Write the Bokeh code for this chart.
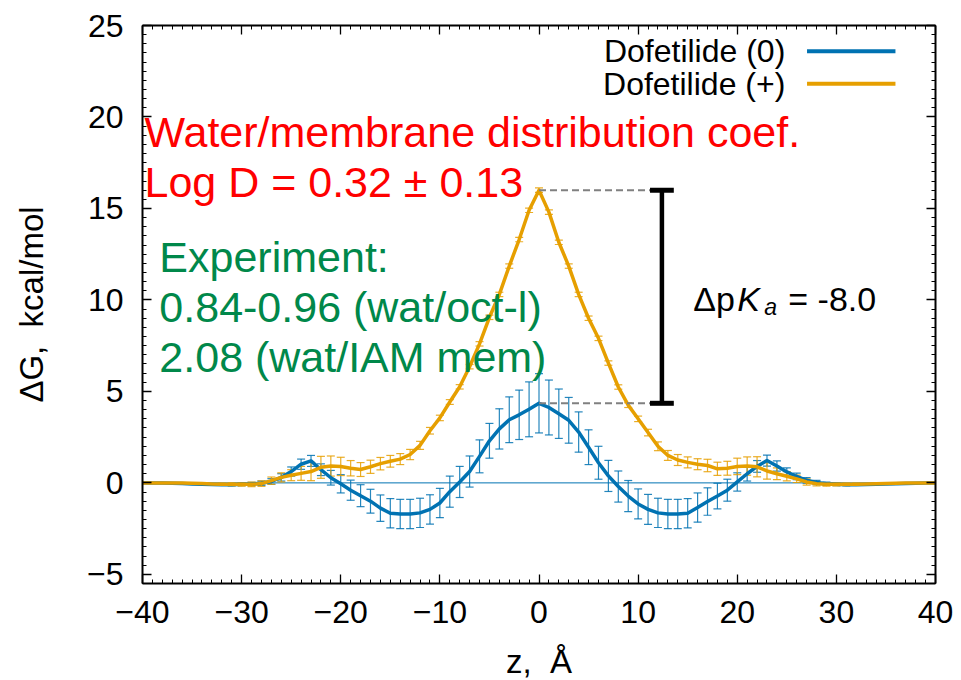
from bokeh.plotting import figure
from bokeh.models import (Range1d, SingleIntervalTicker, LinearAxis, ColumnDataSource,
                          Whisker, TeeHead, Label, Span, CustomJSTickFormatter)
from bokeh.embed import file_html
from bokeh.resources import INLINE

# ---------------- data ----------------
z = list(range(-40, 41))

dof0 = [0.0, 0.0, 0.0, -0.02, -0.04, -0.06, -0.08, -0.09, -0.1, -0.1,
        -0.08, -0.06, -0.02, 0.08, 0.3, 0.62, 1.02, 1.2, 0.72, 0.28,
        -0.05, -0.4, -0.7, -1.0, -1.38, -1.66, -1.7, -1.7, -1.64, -1.45,
        -1.1, -0.48, 0.05, 0.62, 1.45, 2.3, 2.95, 3.45, 3.72, 4.02,
        4.35,
        4.12, 3.78, 3.42, 2.78, 1.95, 1.1, 0.38, -0.2, -0.72, -1.15,
        -1.45, -1.64, -1.7, -1.7, -1.66, -1.35, -1.02, -0.72, -0.4, 0.05,
        0.5, 0.9, 1.22, 0.92, 0.6, 0.35, 0.14, 0.02, -0.05, -0.08,
        -0.1, -0.1, -0.09, -0.08, -0.06, -0.05, -0.03, -0.02, -0.01, 0.0]

dof0_err = [0, 0, 0, 0, 0, 0, 0, 0,
            0.03, 0.05, 0.07, 0.09, 0.12, 0.15, 0.2, 0.25, 0.28, 0.3,
            0.32, 0.4, 0.5, 0.55, 0.6, 0.65, 0.72, 0.8, 0.8, 0.8,
            0.8, 0.8, 0.8, 0.85, 0.85, 0.85, 0.9, 0.95, 1.1, 1.25,
            1.35, 1.5, 1.62, 1.5, 1.35, 1.25, 1.1, 0.95, 0.9, 0.85,
            0.85, 0.85, 0.82, 0.82, 0.8, 0.8, 0.8, 0.8, 0.8, 0.75,
            0.7, 0.6, 0.5, 0.4, 0.32, 0.3, 0.28, 0.22, 0.18, 0.15,
            0.12, 0.09, 0.07, 0.05, 0.03,
            0, 0, 0, 0, 0, 0, 0, 0]

dofp = [0.0, 0.0, 0.0, 0.0, -0.01, -0.02, -0.04, -0.06, -0.07, -0.08,
        -0.08, -0.08, -0.04, 0.12, 0.3, 0.42, 0.52, 0.62, 0.85, 0.92,
        0.9, 0.8, 0.73, 0.88, 1.05, 1.18, 1.3, 1.55, 2.05, 2.85,
        3.55, 4.42, 5.25, 6.35, 7.6, 9.05, 10.3, 11.85, 13.3, 14.9,
        16.0,
        14.8, 13.15, 11.85, 10.3, 9.0, 7.9, 6.55, 5.24, 4.25, 3.5,
        2.75, 2.0, 1.5, 1.25, 1.12, 1.02, 0.95, 0.77, 0.8, 0.9,
        0.92, 0.88, 0.65, 0.5, 0.36, 0.22, 0.05, -0.05, -0.08, -0.08,
        -0.08, -0.07, -0.06, -0.05, -0.03, -0.02, -0.01, 0.0, 0.0, 0.0]

dofp_err = [0, 0, 0, 0, 0, 0, 0, 0,
            0.06, 0.08, 0.1, 0.12, 0.15, 0.2, 0.25, 0.3, 0.38, 0.5,
            0.6, 0.55, 0.5, 0.42, 0.38, 0.36, 0.34, 0.32, 0.3, 0.28,
            0.22, 0.18, 0.15, 0.13,
            0.12, 0.12, 0.12, 0.12, 0.12, 0.12, 0.12, 0.12, 0.12,
            0.12, 0.12, 0.12, 0.12, 0.12, 0.12, 0.12, 0.12,
            0.13, 0.15, 0.18, 0.24, 0.27, 0.3, 0.3, 0.3, 0.34, 0.36,
            0.38, 0.45, 0.5, 0.55, 0.45, 0.32, 0.25, 0.2, 0.17, 0.12,
            0.1, 0.08, 0.07, 0.06,
            0, 0, 0, 0, 0, 0, 0, 0]

assert len(dof0) == len(z) and len(dof0_err) == len(z)
assert len(dofp) == len(z) and len(dofp_err) == len(z)

x_ticks = [-40, -30, -20, -10, 0, 10, 20, 30, 40]
x_tick_labels = ["\u221240", "\u221230", "\u221220", "\u221210", "0", "10", "20", "30", "40"]
y_ticks = [-5, 0, 5, 10, 15, 20, 25]
y_tick_labels = ["\u22125", "0", "5", "10", "15", "20", "25"]

series_names = ["Dofetilide (0)", "Dofetilide (+)"]
red_lines = ["Water/membrane distribution coef.", "Log D = 0.32 \u00b1 0.13"]
green_lines = ["Experiment:", "0.84-0.96 (wat/oct-l)", "2.08 (wat/IAM mem)"]
x_title = "z,\u00a0 \u00c5"
y_title = "\u0394G,\u00a0 kcal/mol"

# ---------------- style ----------------
FONT = "Liberation Sans"
BLUE = "#0072B2"
ORANGE = "#E69F00"
RED = "#FF0000"
GREEN = "#00884A"

p = figure(width=961, height=692, x_range=Range1d(-40, 40), y_range=Range1d(-5.5, 25),
           output_backend="svg", toolbar_location=None,
           min_border_left=142, min_border_right=26, min_border_top=25,
           min_border_bottom=109)
p.outline_line_color = None
p.xgrid.visible = False
p.ygrid.visible = False
p.background_fill_color = "white"
p.border_fill_color = "white"

xt = SingleIntervalTicker(interval=10, num_minor_ticks=10)
yt = SingleIntervalTicker(interval=5, num_minor_ticks=10)
fmt_code = ("const i = tick_vals.findIndex(t => Math.abs(t - tick) < 1e-9);"
            " return i >= 0 ? tick_labs[i] : '';")
xfmt = CustomJSTickFormatter(args=dict(tick_vals=x_ticks, tick_labs=x_tick_labels), code=fmt_code)
yfmt = CustomJSTickFormatter(args=dict(tick_vals=y_ticks, tick_labs=y_tick_labels), code=fmt_code)
blank = CustomJSTickFormatter(code="return '';")

top = LinearAxis()
right = LinearAxis()
p.add_layout(top, "above")
p.add_layout(right, "right")
bottom = p.below[0]
left = p.left[0]

for ax, tk in ((bottom, xt), (top, xt), (left, yt), (right, yt)):
    ax.ticker = tk
    ax.axis_line_color = "black"
    ax.axis_line_width = 2
    ax.major_tick_in = 9
    ax.major_tick_out = 0
    ax.minor_tick_in = 4
    ax.minor_tick_out = 0
    ax.major_tick_line_color = "black"
    ax.minor_tick_line_color = "black"
    ax.major_tick_line_width = 1.3
    ax.minor_tick_line_width = 1

bottom.formatter = xfmt
left.formatter = yfmt
for ax in (bottom, left):
    ax.major_label_text_font = FONT
    ax.major_label_text_font_size = "32px"
    ax.major_label_text_color = "black"
    ax.axis_label_text_font = FONT
    ax.axis_label_text_font_size = "33px"
    ax.axis_label_text_font_style = "normal"
    ax.axis_label_text_color = "black"
bottom.major_label_standoff = 17
left.major_label_standoff = 19
bottom.axis_label = x_title
left.axis_label = y_title
bottom.axis_label_standoff = 17
left.axis_label_standoff = 34
for ax in (top, right):
    ax.formatter = blank
    ax.major_label_standoff = 0

# zero line
p.add_layout(Span(location=0, dimension="width", line_color=BLUE, line_width=1, level="underlay"))

# error bars
def err_source(vals, errs):
    zz = [zi for zi, e in zip(z, errs) if e > 0]
    lo = [v - e for v, e in zip(vals, errs) if e > 0]
    hi = [v + e for v, e in zip(vals, errs) if e > 0]
    return ColumnDataSource(dict(z=zz, lower=lo, upper=hi))

for vals, errs, col in ((dof0, dof0_err, BLUE), (dofp, dofp_err, ORANGE)):
    w = Whisker(base="z", lower="lower", upper="upper", source=err_source(vals, errs),
                line_color=col, line_width=1.2, line_alpha=0.85,
                upper_head=TeeHead(size=8, line_color=col, line_width=1.2, line_alpha=0.85),
                lower_head=TeeHead(size=8, line_color=col, line_width=1.2, line_alpha=0.85))
    p.add_layout(w)

src = ColumnDataSource(dict(z=z, g0=dof0, gp=dofp))
p.line("z", "g0", source=src, line_color=BLUE, line_width=3.5, line_join="round")
p.line("z", "gp", source=src, line_color=ORANGE, line_width=3.5, line_join="round")

# pKa bracket: from data peaks
peak_p = max(dofp)
peak_0 = max(dof0)
zp = z[dofp.index(peak_p)]
z0 = z[dof0.index(peak_0)]
bar_x = 12.4
p.segment(x0=[zp, z0], y0=[peak_p, peak_0], x1=[bar_x, bar_x], y1=[peak_p, peak_0],
          line_color="#808080", line_width=2, line_dash="7 4")
p.segment(x0=[bar_x], y0=[peak_0], x1=[bar_x], y1=[peak_p], line_color="black", line_width=4.5)
p.segment(x0=[bar_x - 1.2, bar_x - 1.2], y0=[peak_p, peak_0], x1=[bar_x + 1.2, bar_x + 1.2],
          y1=[peak_p, peak_0], line_color="black", line_width=5)

def lab(x, y, text, size, color="black", style="normal", align="left", baseline="alphabetic"):
    p.add_layout(Label(x=x, y=y, text=text, text_font=FONT, text_font_size=size,
                       text_color=color, text_font_style=style, text_align=align,
                       text_baseline=baseline))

# Delta pKa label
lab(15.56, 10.05, "\u0394p", "34px")
lab(20.0, 10.05, "K", "34px", style="italic")
lab(22.73, 9.6, "a", "23px", style="italic")
lab(25.15, 10.05, "= -8.0", "34px")

# red and green annotations
for txt, yy in zip(red_lines, [19.16, 16.43]):
    lab(-39.8, yy, txt, "43px", color=RED)
for txt, yy in zip(green_lines, [12.33, 9.6, 6.86]):
    lab(-38.3, yy, txt, "43px", color=GREEN)

# legend
for name, col, yy in zip(series_names, [BLUE, ORANGE], [23.59, 21.81]):
    lab(24.85, yy, name, "32px", align="right", baseline="middle")
    p.segment(x0=[27.04], y0=[yy], x1=[35.96], y1=[yy], line_color=col, line_width=4)

open("out.html", "w").write(file_html(p, INLINE))
